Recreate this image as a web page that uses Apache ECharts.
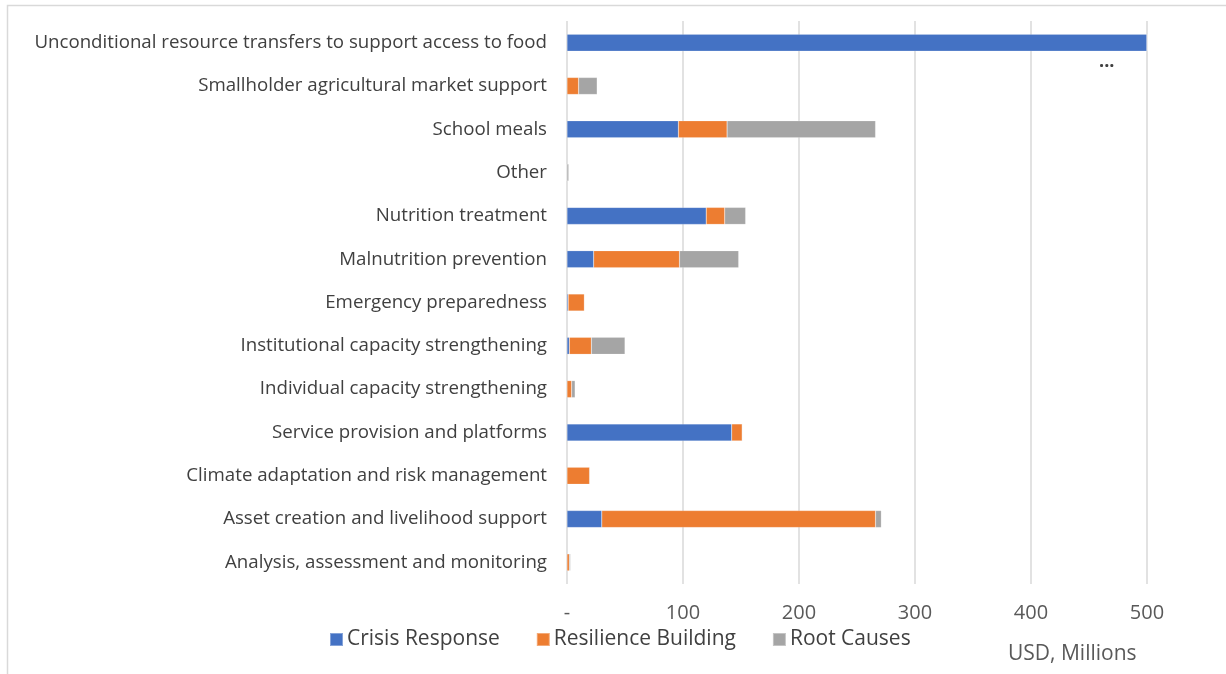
<!DOCTYPE html>
<html>
<head>
<meta charset="utf-8">
<script src="https://cdn.jsdelivr.net/npm/echarts@6/dist/echarts.min.js"></script>
<style>
  html, body { margin: 0; padding: 0; background: #fff; }
  #chart { width: 1226px; height: 674px; }
</style>
</head>
<body>
<div id="chart"></div>
<script>
// Programme activity categories, top to bottom
const categories = [
  'Unconditional resource transfers to support access to food',
  'Smallholder agricultural market support',
  'School meals',
  'Other',
  'Nutrition treatment',
  'Malnutrition prevention',
  'Emergency preparedness',
  'Institutional capacity strengthening',
  'Individual capacity strengthening',
  'Service provision and platforms',
  'Climate adaptation and risk management',
  'Asset creation and livelihood support',
  'Analysis, assessment and monitoring'
];

// USD, millions per focus area
const crisisResponse =     [500, 0,  96, 0,   120, 23, 1,  2,  0, 142, 0,    30,  0];
const resilienceBuilding = [0,   10, 42, 0,   16,  74, 14, 19, 4, 9,   19.5, 236, 2];
const rootCauses =         [0,   16, 128, 1.5, 18, 51, 0,  29, 3, 0.5, 0.5,  5,   1];

const seriesNames = ['Crisis Response', 'Resilience Building', 'Root Causes'];
const seriesColors = ['#4472c4', '#ed7d31', '#a5a5a5'];
const axisTicks = [0, 100, 200, 300, 400, 500];

const chart = echarts.init(document.getElementById('chart'));
const font = '"Open Sans", "Noto Sans", sans-serif';

const makeSeries = (name, data, color) => ({
  name: name,
  type: 'bar',
  stack: 'total',
  data: data,
  barWidth: 17,
  itemStyle: { color: color, borderColor: 'rgba(255,255,255,0.35)', borderWidth: 0.5 },
  emphasis: { disabled: true }
});

chart.setOption({
  animation: false,
  backgroundColor: '#ffffff',
  grid: { left: 567, right: 79, top: 21, bottom: 90, containLabel: false },
  xAxis: {
    type: 'value',
    min: axisTicks[0],
    max: axisTicks[axisTicks.length - 1],
    interval: 100,
    axisLine: { show: false },
    axisTick: { show: false },
    splitLine: { show: true, lineStyle: { color: '#d9d9d9', width: 1.5 } },
    axisLabel: {
      margin: 19,
      color: '#595959',
      fontFamily: font,
      fontSize: 20,
      formatter: v => (v === 0 ? '-' : String(v))
    }
  },
  yAxis: {
    type: 'category',
    data: categories,
    inverse: true,
    axisLine: { show: false },
    axisTick: { show: false },
    axisLabel: { margin: 20, color: '#404040', fontFamily: font, fontSize: 18.7 }
  },
  legend: {
    left: 324,
    top: 624,
    itemWidth: 13,
    itemHeight: 13,
    itemGap: 36,
    icon: 'rect',
    textStyle: { color: '#404040', fontFamily: font, fontSize: 21, padding: [0, 0, 0, -1] },
    data: seriesNames
  },
  series: [
    makeSeries(seriesNames[0], crisisResponse, seriesColors[0]),
    makeSeries(seriesNames[1], resilienceBuilding, seriesColors[1]),
    makeSeries(seriesNames[2], rootCauses, seriesColors[2])
  ],
  graphic: [
    {
      type: 'rect',
      silent: true,
      shape: { x: 7.5, y: 5.5, width: 1240, height: 700 },
      style: { fill: 'none', stroke: '#d9d9d9', lineWidth: 1.5 }
    },
    {
      type: 'text',
      silent: true,
      left: 1099,
      top: 53,
      style: { text: '...', fill: '#404040', font: 'bold 18px ' + font }
    },
    {
      type: 'text',
      silent: true,
      left: 1008,
      top: 644,
      style: { text: 'USD, Millions', fill: '#595959', font: '21px ' + font }
    }
  ]
});
</script>
</body>
</html>
